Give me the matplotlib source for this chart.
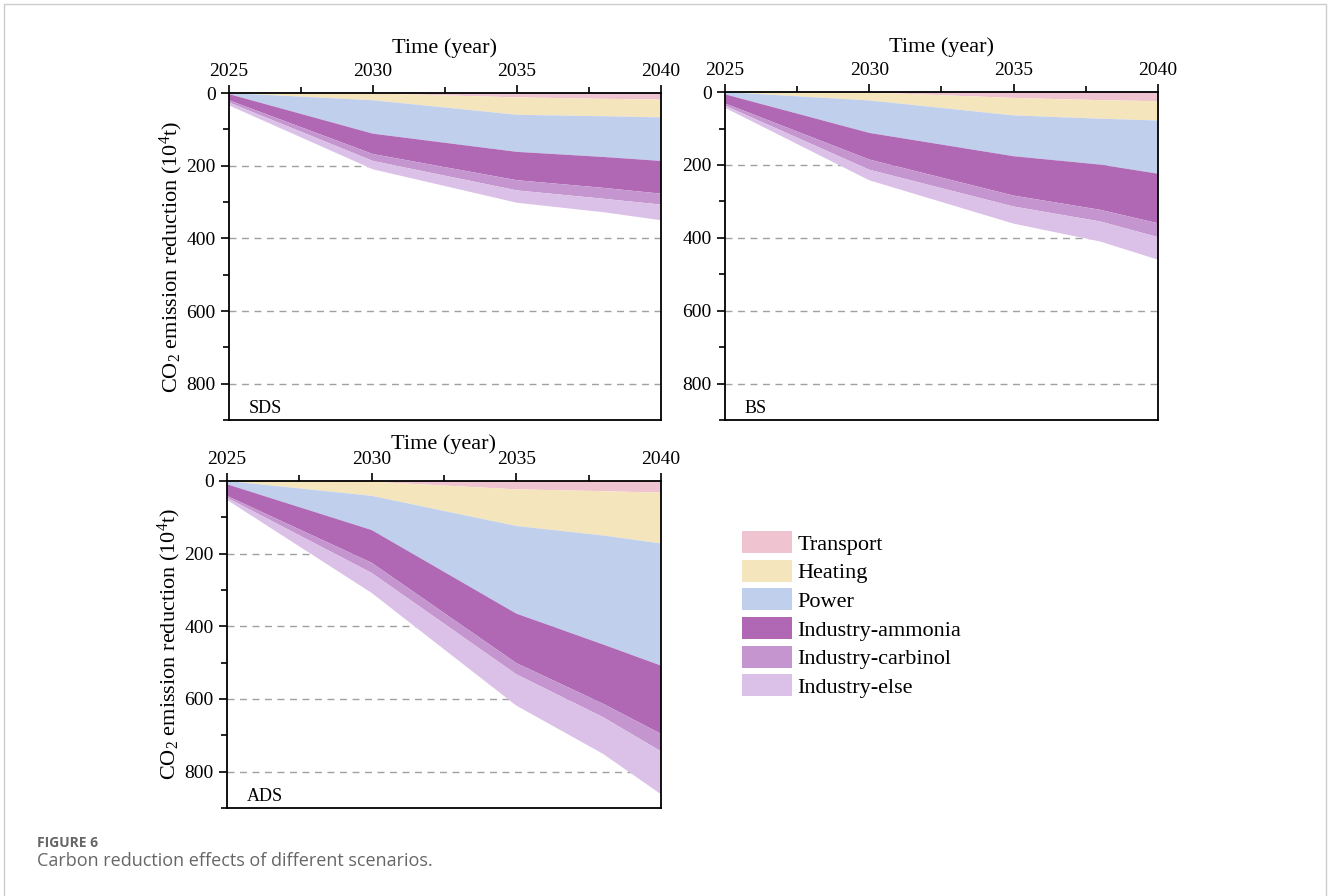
import matplotlib
matplotlib.use("Agg")
import matplotlib.pyplot as plt
from matplotlib.patches import Patch
from matplotlib.lines import Line2D
from matplotlib.ticker import MultipleLocator

plt.rcParams['font.family'] = ['Liberation Serif', 'DejaVu Serif']
plt.rcParams['mathtext.default'] = 'regular'

years = [2025, 2030, 2035, 2038, 2040]
sectors = ['Transport', 'Heating', 'Power', 'Industry-ammonia',
           'Industry-carbinol', 'Industry-else']
colors = ['#efc3cf', '#f5e5bd', '#bfcfec', '#b068b5', '#c495ce', '#dbc0e7']

# emission reduction per sector (10^4 t), stacked from 0 downwards
sds_transport = [0, 1, 12, 16, 18]
sds_heating = [0, 19, 48, 48, 49]
sds_power = [3, 92, 102, 112, 120]
sds_ammonia = [17, 56, 78, 85, 90]
sds_carbinol = [6, 19, 28, 30, 30]
sds_else = [8, 23, 34, 37, 43]

bs_transport = [0, 1, 16, 22, 25]
bs_heating = [0, 22, 48, 51, 53]
bs_power = [6, 89, 112, 126, 146]
bs_ammonia = [25, 73, 108, 124, 136]
bs_carbinol = [6, 28, 30, 32, 38]
bs_else = [6, 29, 47, 55, 62]

ads_transport = [0, 2, 23, 28, 32]
ads_heating = [0, 39, 101, 122, 140]
ads_power = [9, 94, 241, 300, 336]
ads_ammonia = [32, 90, 136, 163, 188]
ads_carbinol = [5, 28, 31, 37, 48]
ads_else = [6, 55, 86, 101, 118]

scenarios = {
    'SDS': [sds_transport, sds_heating, sds_power, sds_ammonia, sds_carbinol, sds_else],
    'BS': [bs_transport, bs_heating, bs_power, bs_ammonia, bs_carbinol, bs_else],
    'ADS': [ads_transport, ads_heating, ads_power, ads_ammonia, ads_carbinol, ads_else],
}
positions = {
    'SDS': [0.1724, 0.5312, 0.3253, 0.365],
    'BS': [0.5459, 0.5312, 0.3261, 0.366],
    'ADS': [0.1709, 0.0982, 0.3268, 0.365],
}

fig = plt.figure(figsize=(13.28, 8.96), dpi=100)

for name, layers in scenarios.items():
    ax = fig.add_axes(positions[name])
    ax.stackplot(years, *layers, colors=colors, linewidth=0, zorder=2)
    ax.set_xlim(2025, 2040)
    ax.set_ylim(900, 0)
    ax.xaxis.tick_top()
    ax.xaxis.set_label_position('top')
    ax.set_xticks([2025, 2030, 2035, 2040])
    ax.xaxis.set_minor_locator(MultipleLocator(2.5))
    ax.set_yticks([0, 200, 400, 600, 800])
    ax.yaxis.set_minor_locator(MultipleLocator(100))
    ax.tick_params(which='major', direction='out', length=6, width=1.2, labelsize=14)
    ax.tick_params(which='minor', direction='out', length=4, width=1.2)
    for s in ax.spines.values():
        s.set_linewidth(1.3)
    for y in [200, 400, 600, 800]:
        ax.axhline(y, color='#a0a0a0', linestyle=(0, (5, 4)), linewidth=1, zorder=1)
    pad = 1 if name == 'ADS' else 7
    ax.set_xlabel('Time (year)', fontsize=16, labelpad=pad)
    if name != 'BS':
        ax.set_ylabel('CO$_2$ emission reduction (10$^4$t)', fontsize=16, labelpad=1)
    ax.text(0.045, 0.022, name, transform=ax.transAxes, fontsize=13)

handles = [Patch(facecolor=c, edgecolor='none') for c in colors]
fig.legend(handles, sectors, loc='upper left', bbox_to_anchor=(0.5587, 0.4074),
           frameon=False, fontsize=16, handlelength=2.25, handleheight=1.15,
           labelspacing=0.23, handletextpad=0.25, borderpad=0, borderaxespad=0)

fig.text(37 / 1328, 1 - 843 / 896, 'FIGURE 6', fontsize=10, fontweight='bold',
         color='#666666', family=['Open Sans', 'DejaVu Sans'], va='center')
fig.text(37 / 1328, 1 - 861 / 896, 'Carbon reduction effects of different scenarios.',
         fontsize=13, color='#666666', family=['Open Sans', 'DejaVu Sans'], va='center')

# thin frame around the figure panel
fx0, fx1, fy1 = 4 / 1328, 1326 / 1328, 1 - 4 / 896
fig.add_artist(Line2D([fx0, fx0, fx1, fx1], [0, fy1, fy1, 0], transform=fig.transFigure,
                      color='#cccccc', linewidth=1))

fig.savefig('out.png', dpi=100)
